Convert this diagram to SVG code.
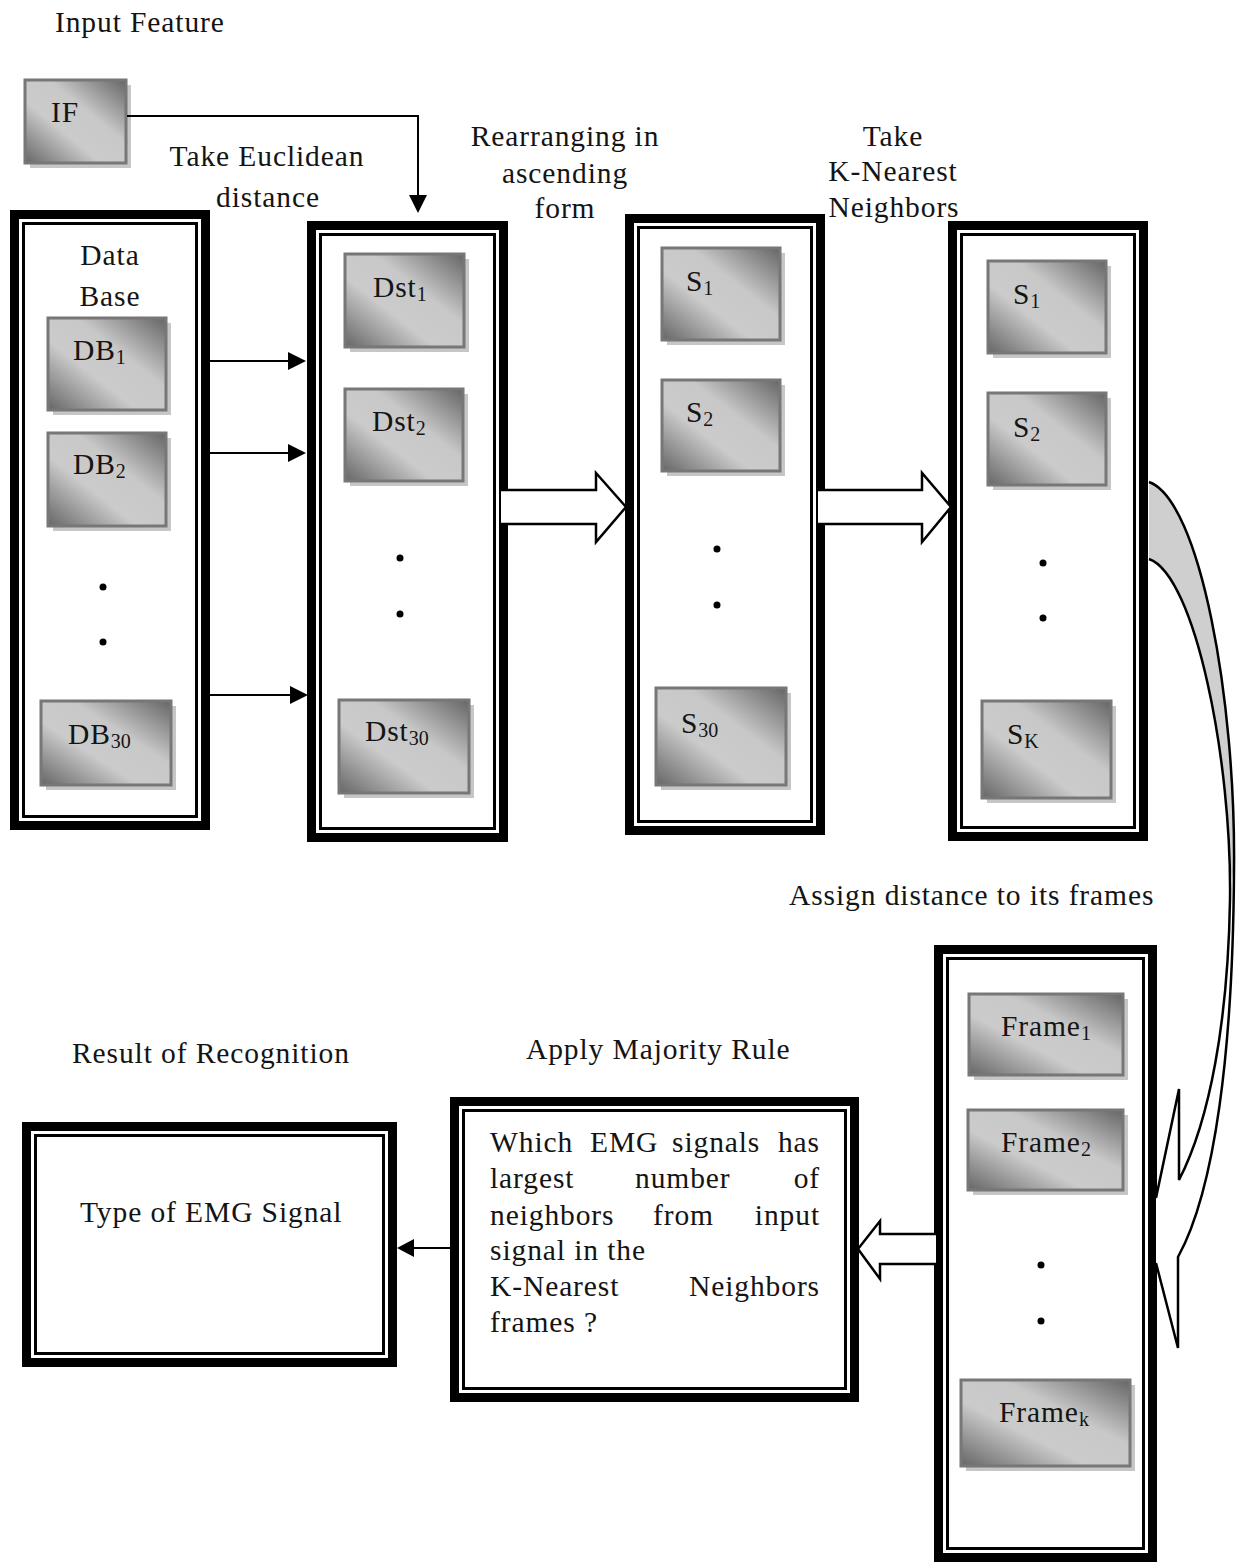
<svg xmlns="http://www.w3.org/2000/svg" width="1236" height="1562" viewBox="0 0 1236 1562">
<style>
.t{font-family:"Liberation Serif","Times New Roman",serif;font-size:29.5px;letter-spacing:0.9px;fill:#141414}
.m{text-anchor:middle}
.e{text-anchor:end}
.sub{font-size:20px;letter-spacing:0}
.outer{fill:none;stroke:#000;stroke-width:9}
.inner{fill:none;stroke:#000;stroke-width:3}
.box{fill:url(#g);stroke:#777;stroke-width:3}
.shd{fill:#c6c6c6}
.ln{fill:none;stroke:#000;stroke-width:2}
.ah{fill:#000}
.hf{fill:#fff;stroke:none}
.hs{fill:none;stroke:#000;stroke-width:2.5;stroke-linejoin:miter}
.dot{fill:#000}
</style>
<defs>
<linearGradient id="g" x1="1" y1="0" x2="0" y2="1">
<stop offset="0" stop-color="#656565"/>
<stop offset="0.38" stop-color="#c8c8c8"/>
<stop offset="0.62" stop-color="#cbcbcb"/>
<stop offset="1" stop-color="#666"/>
</linearGradient>
<linearGradient id="band" gradientUnits="userSpaceOnUse" x1="0" y1="482" x2="0" y2="1348">
<stop offset="0" stop-color="#cfcfcf"/>
<stop offset="0.45" stop-color="#cfcfcf"/>
<stop offset="0.46" stop-color="#fff"/>
<stop offset="1" stop-color="#fff"/>
</linearGradient>
</defs>
<rect width="1236" height="1562" fill="#fff"/>

<g id="labels">
<text class="t" x="55" y="32">Input Feature</text>
<text class="t m" x="267" y="166">Take Euclidean</text>
<text class="t m" x="268" y="207">distance</text>
<text class="t m" x="565" y="146">Rearranging in</text>
<text class="t m" x="565" y="183">ascending</text>
<text class="t m" x="565" y="218">form</text>
<text class="t m" x="893" y="146">Take</text>
<text class="t m" x="893" y="181">K-Nearest</text>
<text class="t m" x="894" y="217">Neighbors</text>
<text class="t" x="789" y="905">Assign distance to its frames</text>
<text class="t" x="72" y="1063">Result of Recognition</text>
<text class="t" x="526" y="1059">Apply Majority Rule</text>
</g>

<g id="node-IF">
<rect class="shd" x="30" y="85" width="101" height="83"/>
<rect class="box" x="25" y="80" width="101" height="83"/>
<text class="t" x="51" y="122">IF</text>
</g>

<g id="node-database">
<rect class="outer" x="14.5" y="214.5" width="191" height="611"/>
<rect class="inner" x="23.5" y="223.5" width="173" height="593"/>
<text class="t m" x="110" y="265">Data</text>
<text class="t m" x="110" y="306">Base</text>
<rect class="shd" x="53" y="323" width="118" height="92"/>
<rect class="box" x="48" y="318" width="118" height="92"/>
<text class="t" x="73" y="360">DB<tspan class="sub" dy="4">1</tspan></text>
<rect class="shd" x="53" y="438" width="118" height="93"/>
<rect class="box" x="48" y="433" width="118" height="93"/>
<text class="t" x="73" y="474">DB<tspan class="sub" dy="4">2</tspan></text>
<circle class="dot" cx="103" cy="587" r="3.5"/>
<circle class="dot" cx="103" cy="642" r="3.5"/>
<rect class="shd" x="46" y="706" width="130" height="84"/>
<rect class="box" x="41" y="701" width="130" height="84"/>
<text class="t" x="68" y="744">DB<tspan class="sub" dy="4">30</tspan></text>
</g>

<g id="node-distances">
<rect class="outer" x="311.5" y="225.5" width="192" height="612"/>
<rect class="inner" x="320.5" y="234.5" width="174" height="594"/>
<rect class="shd" x="350" y="259" width="119" height="93"/>
<rect class="box" x="345" y="254" width="119" height="93"/>
<text class="t" x="373" y="297">Dst<tspan class="sub" dy="4">1</tspan></text>
<rect class="shd" x="350" y="394" width="118" height="92"/>
<rect class="box" x="345" y="389" width="118" height="92"/>
<text class="t" x="372" y="431">Dst<tspan class="sub" dy="4">2</tspan></text>
<circle class="dot" cx="400" cy="558" r="3.5"/>
<circle class="dot" cx="400" cy="614" r="3.5"/>
<rect class="shd" x="344" y="705" width="130" height="93"/>
<rect class="box" x="339" y="700" width="130" height="93"/>
<text class="t" x="365" y="741">Dst<tspan class="sub" dy="4">30</tspan></text>
</g>

<g id="node-sorted">
<rect class="outer" x="629.5" y="218.5" width="191" height="612"/>
<rect class="inner" x="638.5" y="227.5" width="173" height="594"/>
<rect class="shd" x="667" y="253" width="118" height="92"/>
<rect class="box" x="662" y="248" width="118" height="92"/>
<text class="t" x="686" y="291">S<tspan class="sub" dy="4">1</tspan></text>
<rect class="shd" x="667" y="385" width="118" height="91"/>
<rect class="box" x="662" y="380" width="118" height="91"/>
<text class="t" x="686" y="422">S<tspan class="sub" dy="4">2</tspan></text>
<circle class="dot" cx="717" cy="549" r="3.5"/>
<circle class="dot" cx="717" cy="605" r="3.5"/>
<rect class="shd" x="661" y="693" width="130" height="97"/>
<rect class="box" x="656" y="688" width="130" height="97"/>
<text class="t" x="681" y="733">S<tspan class="sub" dy="4">30</tspan></text>
</g>

<g id="node-knearest">
<rect class="outer" x="952.5" y="225.5" width="191" height="611"/>
<rect class="inner" x="961.5" y="234.5" width="173" height="593"/>
<rect class="shd" x="993" y="266" width="118" height="92"/>
<rect class="box" x="988" y="261" width="118" height="92"/>
<text class="t" x="1013" y="304">S<tspan class="sub" dy="4">1</tspan></text>
<rect class="shd" x="993" y="398" width="118" height="92"/>
<rect class="box" x="988" y="393" width="118" height="92"/>
<text class="t" x="1013" y="437">S<tspan class="sub" dy="4">2</tspan></text>
<circle class="dot" cx="1043" cy="563" r="3.5"/>
<circle class="dot" cx="1043" cy="618" r="3.5"/>
<rect class="shd" x="987" y="706" width="129" height="97"/>
<rect class="box" x="982" y="701" width="129" height="97"/>
<text class="t" x="1007" y="744">S<tspan class="sub" dy="4">K</tspan></text>
</g>

<g id="node-frames">
<rect class="outer" x="938.5" y="949.5" width="214" height="608"/>
<rect class="inner" x="947.5" y="958.5" width="196" height="590"/>
<rect class="shd" x="974" y="999" width="154" height="81"/>
<rect class="box" x="969" y="994" width="154" height="81"/>
<text class="t" x="1001" y="1036">Frame<tspan class="sub" dy="4">1</tspan></text>
<rect class="shd" x="973" y="1115" width="155" height="80"/>
<rect class="box" x="968" y="1110" width="155" height="80"/>
<text class="t" x="1001" y="1152">Frame<tspan class="sub" dy="4">2</tspan></text>
<circle class="dot" cx="1041" cy="1265" r="3.5"/>
<circle class="dot" cx="1041" cy="1321" r="3.5"/>
<rect class="shd" x="966" y="1385" width="169" height="86"/>
<rect class="box" x="961" y="1380" width="169" height="86"/>
<text class="t" x="999" y="1422">Frame<tspan class="sub" dy="4">k</tspan></text>
</g>

<g id="node-majority">
<rect class="outer" x="454.5" y="1101.5" width="400" height="296"/>
<rect class="inner" x="463.5" y="1110.5" width="382" height="278"/>
<text class="t" x="490" y="1152">Which</text>
<text class="t" x="590" y="1152">EMG</text>
<text class="t" x="672" y="1152">signals</text>
<text class="t e" x="820" y="1152">has</text>
<text class="t" x="490" y="1188">largest</text>
<text class="t" x="635" y="1188">number</text>
<text class="t e" x="820" y="1188">of</text>
<text class="t" x="490" y="1225">neighbors</text>
<text class="t" x="653" y="1225">from</text>
<text class="t e" x="820" y="1225">input</text>
<text class="t" x="490" y="1260">signal in the</text>
<text class="t" x="490" y="1296">K-Nearest</text>
<text class="t e" x="820" y="1296">Neighbors</text>
<text class="t" x="490" y="1332">frames ?</text>
</g>

<g id="node-result">
<rect class="outer" x="26.5" y="1126.5" width="366" height="236"/>
<rect class="inner" x="35.5" y="1135.5" width="348" height="218"/>
<text class="t" x="80" y="1222">Type of EMG Signal</text>
</g>

<g id="connectors">
<polyline class="ln" points="127,116 418,116 418,197"/>
<polygon class="ah" points="409,195 427,195 418,213"/>
<line class="ln" x1="210" y1="361" x2="290" y2="361"/>
<polygon class="ah" points="288,352 306,361 288,370"/>
<line class="ln" x1="210" y1="453" x2="290" y2="453"/>
<polygon class="ah" points="288,444 306,453 288,462"/>
<line class="ln" x1="210" y1="695" x2="292" y2="695"/>
<polygon class="ah" points="290,686 308,695 290,704"/>

<polygon class="hf" points="501,490 596,490 596,473 626,507 596,542 596,524 501,524"/>
<polyline class="hs" points="501,490 596,490 596,473 626,507 596,542 596,524 501,524"/>
<polygon class="hf" points="818,490 922,490 922,473 951,507 922,542 922,524 818,524"/>
<polyline class="hs" points="818,490 922,490 922,473 951,507 922,542 922,524 818,524"/>

<path fill="url(#band)" stroke="none" d="M1149,482 C1200,500 1236,700 1234,870 C1233,1050 1215,1190 1178,1257 L1178,1348 L1156,1263 L1156,1198 L1179,1089 L1179,1180 C1210,1120 1228,1020 1230,900 C1232,760 1195,575 1149,559 Z"/>
<path class="hs" d="M1149,482 C1200,500 1236,700 1234,870 C1233,1050 1215,1190 1178,1257 L1178,1348 L1156,1263 M1156,1198 L1179,1089 L1179,1180 C1210,1120 1228,1020 1230,900 C1232,760 1195,575 1149,559"/>

<polygon class="hf" points="936,1234 880,1234 880,1221 858,1249 880,1279 880,1264 936,1264"/>
<polyline class="hs" points="936,1234 880,1234 880,1221 858,1249 880,1279 880,1264 936,1264"/>

<line class="ln" x1="450" y1="1248" x2="412" y2="1248"/>
<polygon class="ah" points="414,1239 397,1248 414,1257"/>
</g>
</svg>
